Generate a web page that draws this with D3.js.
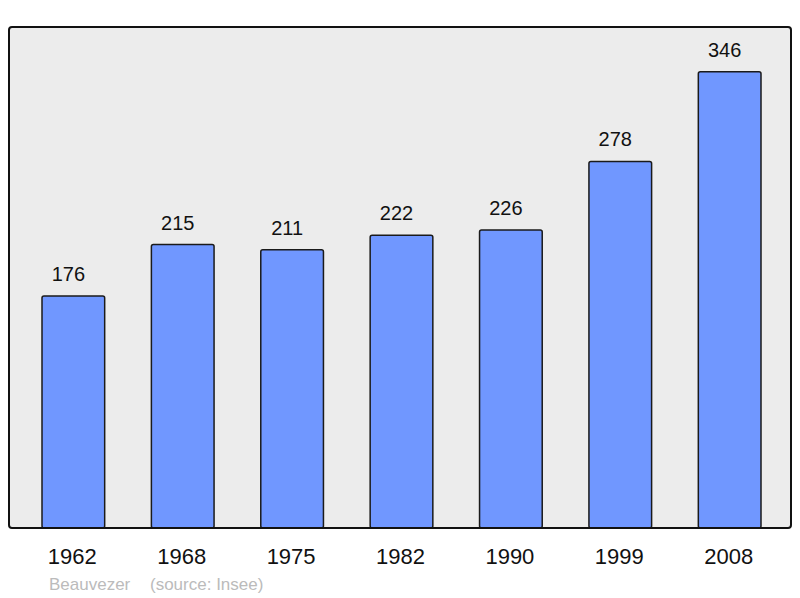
<!DOCTYPE html>
<meta charset="utf-8">
<style>
body { margin: 0; background: #fff; }
text { font-family: "Liberation Sans", Arial, sans-serif; }
.value { font-size: 20px; fill: #111; text-anchor: middle; }
.year { font-size: 22px; fill: #111; text-anchor: middle; }
.foot { font-size: 17px; fill: #bbb; }
</style>
<svg width="800" height="598"></svg>
<script src="https://d3js.org/d3.v7.min.js"></script>
<script>

var years = ["1962", "1968", "1975", "1982", "1990", "1999", "2008"];
var population = [176, 215, 211, 222, 226, 278, 346];
var place = "Beauvezer";
var source = "(source: Insee)";

var svg = d3.select("svg");

var frame = {left: 9, top: 27, right: 791, bottom: 528};

var x = d3.scaleBand()
    .domain(years)
    .range([42, 761])
    .paddingInner(0.427)
    .paddingOuter(0);

var y = d3.scaleLinear()
    .domain([0, 380])
    .range([frame.bottom, frame.top]);

// plot background
svg.append("rect")
    .attr("x", frame.left)
    .attr("y", frame.top)
    .attr("width", frame.right - frame.left)
    .attr("height", frame.bottom - frame.top)
    .attr("rx", 3)
    .style("fill", "#ececec");

var data = years.map(function(d, i) { return {year: d, value: population[i]}; });

svg.selectAll(".bar")
    .data(data)
  .enter().append("rect")
    .attr("class", "bar")
    .attr("x", function(d) { return x(d.year); })
    .attr("y", function(d) { return y(d.value); })
    .attr("width", x.bandwidth())
    .attr("height", function(d) { return y(0) - y(d.value); })
    .attr("rx", 2)
    .style("fill", "#7097ff")
    .style("stroke", "#1a1a1a")
    .style("stroke-width", 1.5);

svg.selectAll(".value")
    .data(data)
  .enter().append("text")
    .attr("class", "value")
    .attr("x", function(d) { return x(d.year) + x.bandwidth() / 2 - 5; })
    .attr("y", function(d) { return y(d.value) - 15; })
    .text(function(d) { return d.value; });

// frame border drawn on top
svg.append("rect")
    .attr("x", frame.left)
    .attr("y", frame.top)
    .attr("width", frame.right - frame.left)
    .attr("height", frame.bottom - frame.top)
    .attr("rx", 3)
    .style("fill", "none")
    .style("stroke", "#111")
    .style("stroke-width", 2);

svg.selectAll(".year")
    .data(years)
  .enter().append("text")
    .attr("class", "year")
    .attr("x", function(d) { return x(d) + x.bandwidth() / 2 - 1; })
    .attr("y", 564)
    .text(function(d) { return d; });

svg.append("text").attr("class", "foot").attr("x", 49).attr("y", 590).text(place);
svg.append("text").attr("class", "foot").attr("x", 150).attr("y", 590).text(source);

</script>
